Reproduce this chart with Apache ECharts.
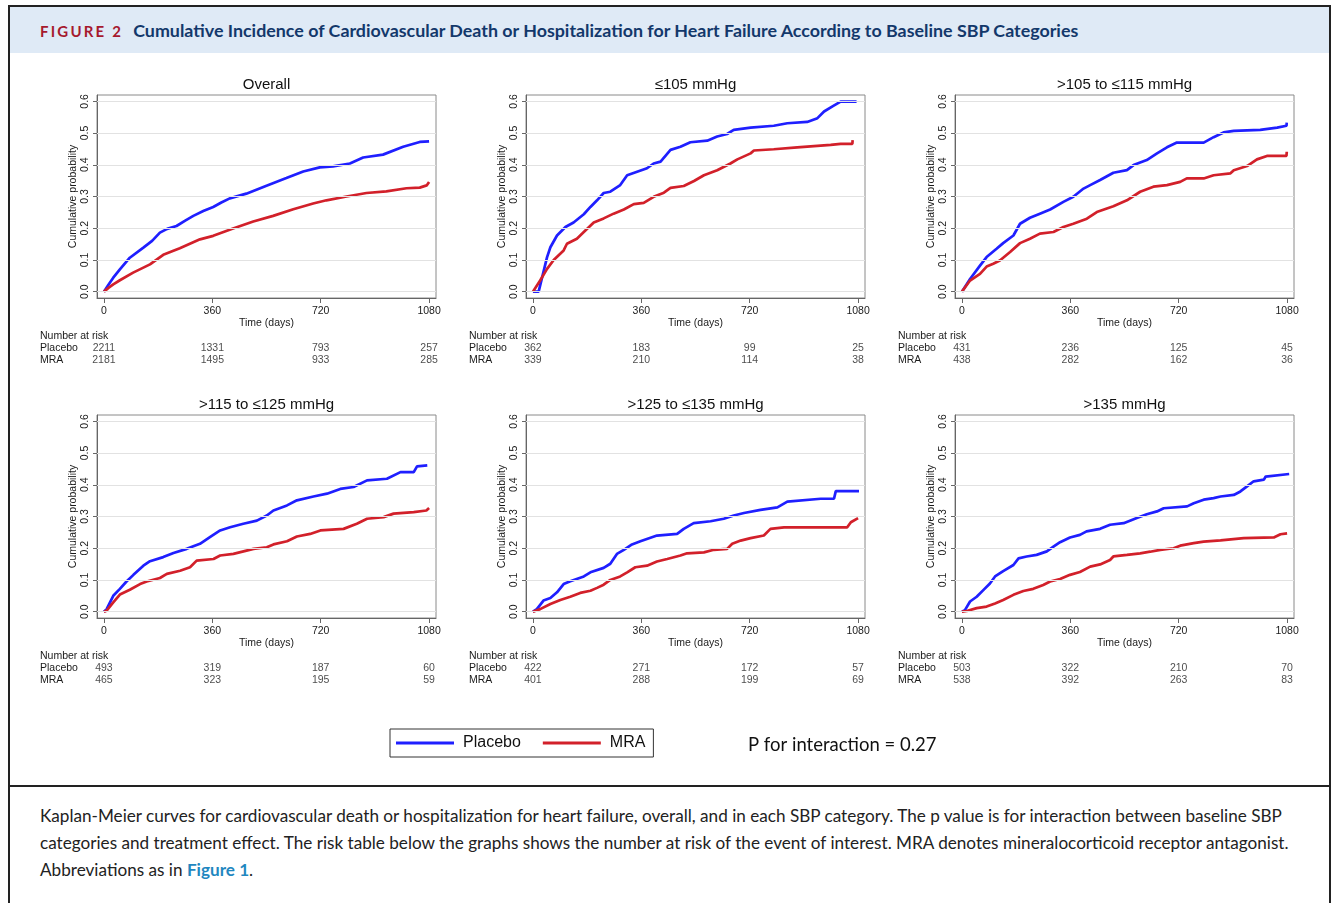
<!DOCTYPE html>
<html>
<head>
<meta charset="utf-8">
<script src="https://cdn.jsdelivr.net/npm/echarts@6/dist/echarts.min.js"></script>
<style>
  html, body { margin:0; padding:0; width:1336px; height:903px; overflow:hidden; background:#fff; }
  #frame { position:absolute; left:8px; top:5px; width:1323px; height:905px; box-sizing:border-box; border:2px solid #222; border-bottom:none; }
  #header { position:absolute; left:10px; top:7px; width:1319px; height:46px; background:#dfeaf6; }
  #htext { position:absolute; left:30px; top:12px; white-space:nowrap; font-family:Lato, "Noto Sans", sans-serif; font-weight:bold; font-size:17.85px; color:#13386b; }
  #htext .fig { color:#a6192e; letter-spacing:2.2px; font-size:15px; margin-right:10px; }
  #sep { position:absolute; left:8px; top:785px; width:1323px; height:2px; background:#222; }
  #caption { position:absolute; left:40px; top:802px; font-family:Lato, "Noto Sans", sans-serif; font-size:17.15px; color:#222; line-height:27px; white-space:nowrap; }
  #caption b { color:#1f87c0; }
  #chart { position:absolute; left:0; top:0; width:1336px; height:903px; }
</style>
</head>
<body>
<div id="frame"></div>
<div id="header"><div id="htext"><span class="fig">FIGURE 2</span>Cumulative Incidence of Cardiovascular Death or Hospitalization for Heart Failure According to Baseline SBP Categories</div></div>
<div id="sep"></div>
<div id="caption">Kaplan-Meier curves for cardiovascular death or hospitalization for heart failure, overall, and in each SBP category. The p value is for interaction between baseline SBP<br>categories and treatment effect. The risk table below the graphs shows the number at risk of the event of interest. MRA denotes mineralocorticoid receptor antagonist.<br>Abbreviations as in <b>Figure 1</b>.</div>
<div id="chart"></div>
<script>
// ---------- data ----------
const panelTitles = ['Overall', '\u2264105 mmHg', '>105 to \u2264115 mmHg', '>115 to \u2264125 mmHg', '>125 to \u2264135 mmHg', '>135 mmHg'];
const xTicks = [0, 360, 720, 1080];
const yTicks = [0, 0.1, 0.2, 0.3, 0.4, 0.5, 0.6];
const riskTimes = [0, 360, 720, 1080];
const groups = ['Placebo', 'MRA'];

const overallPlacebo = [[0,0],[15,0.022],[31,0.044],[53,0.07],[86,0.107],[131,0.139],[160,0.16],[186,0.186],[210,0.198],[241,0.207],[270,0.224],[297,0.239],[330,0.254],[363,0.267],[390,0.281],[418,0.294],[473,0.309],[540,0.334],[606,0.358],[662,0.379],[717,0.392],[761,0.395],[817,0.404],[861,0.423],[927,0.432],[994,0.457],[1049,0.472],[1080,0.474]];
const overallMRA = [[0,0],[15,0.012],[31,0.023],[53,0.036],[97,0.06],[153,0.086],[197,0.116],[252,0.137],[319,0.165],[363,0.176],[429,0.199],[496,0.221],[562,0.239],[629,0.26],[695,0.278],[739,0.288],[806,0.3],[872,0.311],[938,0.316],[1005,0.326],[1049,0.328],[1072,0.335],[1080,0.346]];

const sbp105Placebo = [[0,0],[19,0],[47,0.109],[58,0.14],[80,0.177],[108,0.204],[135,0.218],[169,0.244],[191,0.267],[213,0.288],[235,0.311],[257,0.315],[290,0.336],[313,0.367],[346,0.378],[379,0.389],[401,0.404],[424,0.41],[457,0.447],[490,0.457],[523,0.471],[579,0.476],[612,0.489],[645,0.497],[667,0.51],[723,0.517],[800,0.523],[845,0.531],[911,0.535],[945,0.547],[967,0.568],[995,0.584],[1022,0.599],[1075,0.599]];
const sbp105MRA = [[0,0],[24,0.035],[47,0.072],[69,0.1],[102,0.13],[113,0.151],[146,0.167],[169,0.188],[202,0.218],[235,0.231],[268,0.246],[302,0.259],[335,0.276],[368,0.28],[401,0.299],[435,0.312],[457,0.327],[501,0.333],[535,0.349],[568,0.367],[612,0.383],[656,0.404],[679,0.417],[723,0.436],[734,0.445],[800,0.449],[878,0.455],[989,0.463],[1022,0.466],[1061,0.466],[1062,0.478]];

const sbp115Placebo = [[0,0],[4,0],[27,0.04],[60,0.082],[82,0.109],[115,0.135],[137,0.153],[171,0.177],[193,0.214],[226,0.233],[259,0.246],[293,0.259],[337,0.283],[370,0.299],[404,0.325],[426,0.336],[459,0.352],[503,0.375],[548,0.383],[570,0.399],[614,0.415],[648,0.436],[681,0.455],[714,0.47],[803,0.47],[836,0.487],[869,0.502],[903,0.507],[991,0.51],[1047,0.517],[1078,0.523],[1079,0.533]];
const sbp115MRA = [[0,0],[4,0],[27,0.035],[60,0.056],[82,0.079],[104,0.088],[126,0.098],[160,0.125],[193,0.153],[226,0.167],[259,0.183],[304,0.188],[337,0.204],[370,0.214],[415,0.23],[448,0.251],[503,0.269],[548,0.288],[592,0.315],[636,0.331],[681,0.336],[725,0.346],[747,0.357],[803,0.357],[836,0.367],[892,0.373],[903,0.383],[947,0.396],[980,0.417],[1013,0.428],[1078,0.428],[1079,0.441]];

const sbp125Placebo = [[0,0],[9,0.008],[31,0.05],[53,0.072],[75,0.095],[98,0.116],[131,0.145],[153,0.159],[197,0.172],[231,0.185],[275,0.198],[319,0.214],[352,0.235],[386,0.256],[419,0.266],[463,0.277],[508,0.287],[541,0.303],[563,0.319],[608,0.335],[641,0.351],[696,0.363],[741,0.372],[785,0.387],[829,0.393],[874,0.414],[940,0.419],[985,0.44],[1029,0.44],[1040,0.458],[1074,0.461]];
const sbp125MRA = [[0,0],[9,0.003],[31,0.029],[53,0.054],[86,0.069],[120,0.087],[142,0.095],[186,0.106],[209,0.119],[253,0.129],[286,0.14],[308,0.161],[364,0.166],[386,0.177],[430,0.182],[497,0.198],[541,0.203],[563,0.212],[608,0.222],[641,0.237],[685,0.245],[719,0.256],[796,0.261],[840,0.277],[874,0.293],[929,0.298],[962,0.309],[1029,0.314],[1071,0.319],[1080,0.327]];

const sbp135Placebo = [[0,0],[13,0.008],[35,0.035],[58,0.043],[80,0.061],[102,0.087],[124,0.096],[169,0.111],[191,0.124],[235,0.138],[257,0.151],[279,0.182],[302,0.195],[329,0.212],[357,0.222],[412,0.24],[479,0.245],[501,0.261],[534,0.279],[590,0.285],[634,0.293],[667,0.303],[701,0.311],[756,0.321],[812,0.329],[845,0.347],[956,0.356],[1000,0.356],[1006,0.38],[1083,0.38]];
const sbp135MRA = [[0,0],[24,0.008],[58,0.024],[91,0.037],[124,0.047],[157,0.059],[191,0.066],[213,0.075],[235,0.085],[257,0.1],[290,0.111],[313,0.124],[340,0.14],[379,0.145],[412,0.158],[446,0.166],[490,0.177],[512,0.184],[568,0.187],[601,0.195],[645,0.198],[662,0.214],[690,0.224],[723,0.232],[767,0.24],[789,0.261],[834,0.266],[1044,0.266],[1056,0.282],[1080,0.295]];

const sbpHighPlacebo = [[0,0],[10,0.005],[27,0.032],[49,0.047],[71,0.068],[93,0.089],[110,0.111],[137,0.128],[171,0.147],[188,0.168],[215,0.174],[248,0.179],[282,0.19],[304,0.205],[326,0.219],[359,0.234],[392,0.242],[414,0.253],[459,0.261],[492,0.274],[537,0.279],[581,0.295],[614,0.307],[648,0.316],[670,0.326],[748,0.332],[770,0.342],[803,0.353],[836,0.358],[859,0.363],[903,0.368],[925,0.379],[947,0.395],[969,0.411],[1003,0.416],[1009,0.426],[1087,0.434]];
const sbpHighMRA = [[0,0],[16,0.002],[49,0.011],[82,0.016],[110,0.026],[137,0.037],[171,0.053],[204,0.065],[237,0.072],[270,0.084],[293,0.095],[326,0.103],[359,0.116],[392,0.125],[426,0.142],[459,0.149],[492,0.163],[503,0.174],[548,0.179],[592,0.184],[625,0.189],[659,0.195],[703,0.2],[725,0.208],[770,0.216],[803,0.221],[859,0.225],[936,0.232],[1036,0.234],[1058,0.244],[1080,0.247]];

const riskPlacebo = [[2211,1331,793,257],[362,183,99,25],[431,236,125,45],[493,319,187,60],[422,271,172,57],[503,322,210,70]];
const riskMRA = [[2181,1495,933,285],[339,210,114,38],[438,282,162,36],[465,323,195,59],[401,288,199,69],[538,392,263,83]];

const curvesPlacebo = [overallPlacebo, sbp105Placebo, sbp115Placebo, sbp125Placebo, sbp135Placebo, sbpHighPlacebo];
const curvesMRA = [overallMRA, sbp105MRA, sbp115MRA, sbp125MRA, sbp135MRA, sbpHighMRA];

// ---------- layout ----------
const colLeft = [97, 526, 955];
const rowTop = [95, 415];
const boxW = 339, boxH = 203;
const BLUE = '#1f1fff', RED = '#d2202a';
const FONT = 'Liberation Sans, Arial, sans-serif';

const chart = echarts.init(document.getElementById('chart'), null, {renderer: 'canvas'});
const grids = [], xAxes = [], yAxes = [], series = [], titles = [], graphics = [];

for (let p = 0; p < 6; p++) {
  const c = p % 3, r = Math.floor(p / 3);
  const L = colLeft[c], T = rowTop[r];
  grids.push({left: L, top: T, width: boxW, height: boxH, show: true, borderColor: '#8a8a8a', borderWidth: 1, backgroundColor: '#fff'});
  const gi = grids.length - 1;
  xAxes.push({
    type: 'value', gridIndex: gi, min: -23, max: 1103,
    axisLine: {show: true, onZero: false, lineStyle: {color: '#666', width: 1}},
    axisTick: {show: true, length: 5, customValues: xTicks, lineStyle: {color: '#666'}},
    axisLabel: {show: true, customValues: xTicks, fontSize: 10.5, color: '#1a1a1a', margin: 8, fontFamily: FONT,
      formatter: v => String(v)},
    splitLine: {show: false},
    name: 'Time (days)', nameLocation: 'middle', nameGap: 19,
    nameTextStyle: {fontSize: 10.5, color: '#1a1a1a', fontFamily: FONT}
  });
  yAxes.push({
    type: 'value', gridIndex: gi, min: -0.02, max: 0.62,
    axisLine: {show: true, onZero: false, lineStyle: {color: '#666', width: 1}},
    axisTick: {show: true, length: 4, customValues: yTicks, lineStyle: {color: '#666'}},
    axisLabel: {show: true, customValues: yTicks, rotate: 90, fontSize: 10.5, color: '#1a1a1a', margin: 6, fontFamily: FONT,
      formatter: v => v.toFixed(1)},
    splitLine: {show: false},
    name: 'Cumulative probability', nameLocation: 'middle', nameGap: 17,
    nameTextStyle: {fontSize: 10.5, color: '#1a1a1a', fontFamily: FONT}
  });
  series.push({
    type: 'line', xAxisIndex: gi, yAxisIndex: gi, data: [], silent: true, z: 1,
    markLine: {silent: true, symbol: ['none','none'], label: {show: false},
      lineStyle: {color: '#e2e2e2', width: 1.2, type: 'solid'}, animation: false,
      data: yTicks.map(v => ({yAxis: v}))}
  });
  series.push({name: 'Placebo', type: 'line', xAxisIndex: gi, yAxisIndex: gi, data: curvesPlacebo[p],
    showSymbol: false, color: BLUE, lineStyle: {width: 2.7, color: BLUE}, z: 3, animation: false});
  series.push({name: 'MRA', type: 'line', xAxisIndex: gi, yAxisIndex: gi, data: curvesMRA[p],
    showSymbol: false, color: RED, lineStyle: {width: 2.7, color: RED}, z: 4, animation: false});
  titles.push({text: panelTitles[p], left: L + boxW / 2, top: T - 18, textAlign: 'center', padding: 0,
    textStyle: {fontSize: 15, fontWeight: 'normal', color: '#111', fontFamily: FONT}});

  const RT = T + 247;
  grids.push({left: L, top: RT, width: boxW, height: 24, show: false});
  const ri = grids.length - 1;
  xAxes.push({type: 'value', gridIndex: ri, min: -23, max: 1103, show: false});
  yAxes.push({type: 'category', gridIndex: ri, data: groups, inverse: true,
    axisLine: {show: false}, axisTick: {show: false}, splitLine: {show: false},
    axisLabel: {show: true, interval: 0, align: 'left', margin: 57, fontSize: 10.5, color: '#1a1a1a', fontFamily: FONT}});
  const riskData = [];
  riskTimes.forEach((t, k) => {
    riskData.push([t, 'Placebo', riskPlacebo[p][k]]);
    riskData.push([t, 'MRA', riskMRA[p][k]]);
  });
  series.push({type: 'scatter', name: 'risk' + p, xAxisIndex: ri, yAxisIndex: ri, data: riskData, symbolSize: 0.01,
    silent: true, animation: false,
    label: {show: true, position: 'inside', formatter: d => String(d.value[2]), fontSize: 10.5, color: '#1a1a1a', fontFamily: FONT}});
  graphics.push({type: 'text', left: L - 57, top: RT - 11, style: {text: 'Number at risk', fontSize: 10.5, fill: '#1a1a1a', fontFamily: FONT}});
}

graphics.push({type: 'text', left: 748, top: 736, style: {text: 'P for interaction = 0.27', fontSize: 18.5, fill: '#111', fontFamily: 'Lato, sans-serif'}});

chart.setOption({
  animation: false,
  title: titles,
  grid: grids,
  xAxis: xAxes,
  yAxis: yAxes,
  series: series,
  graphic: graphics,
  legend: {
    data: ['Placebo', 'MRA'], left: 390, top: 729, orient: 'horizontal',
    icon: 'rect', itemWidth: 58, itemHeight: 3, itemGap: 22,
    borderColor: '#333', borderWidth: 1, padding: [6, 8, 6, 6], borderRadius: 0,
    textStyle: {fontSize: 16, color: '#111', fontFamily: FONT, padding: [0, 0, 0, 4]},
    selectedMode: false
  }
});
</script>
</body>
</html>
